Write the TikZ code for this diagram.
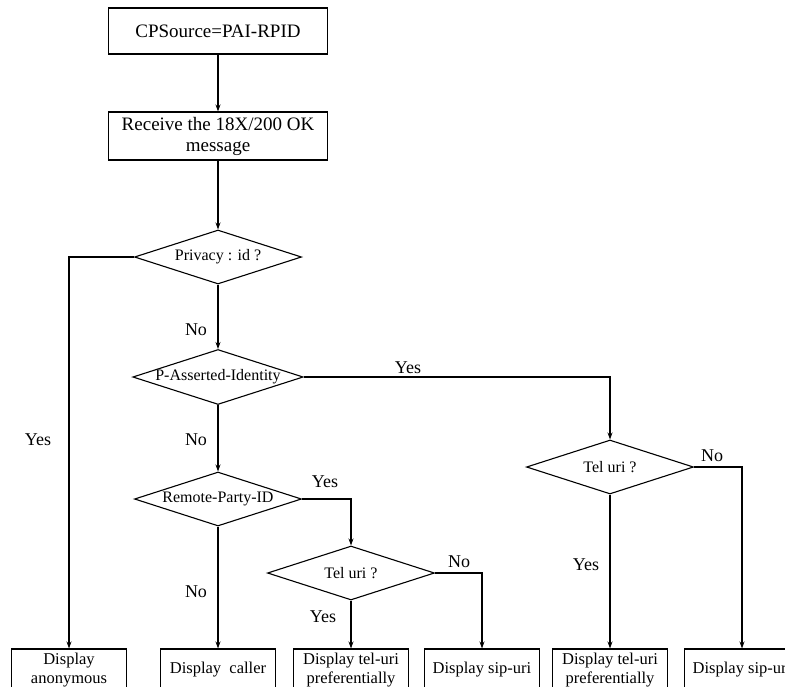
\documentclass[tikz,border=0pt]{standalone}
\usepackage{fontspec}
\setmainfont{Liberation Serif}
\usetikzlibrary{shapes.geometric,arrows.meta}

\begin{document}
\begin{tikzpicture}[x=1pt,y=-1pt,>={Stealth[length=7pt,width=5pt]},line width=1.1pt,
	box/.style={draw,rectangle,minimum width=219pt,inner sep=0pt,align=center,font=\fontsize{19}{21}\selectfont},
	dia/.style={draw,diamond,aspect=3.1,minimum width=167pt,minimum height=54pt,inner sep=0pt,font=\fontsize{16}{18}\selectfont},
	outbox/.style={draw,rectangle,minimum width=115pt,minimum height=42pt,inner sep=0pt,align=center,font=\fontsize{16.5}{19}\selectfont},
	lbl/.style={font=\fontsize{18}{20}\selectfont}]
		\useasboundingbox (0,0) rectangle (785,686);
		% start
		\node[box,minimum height=46pt] (src) at (218,31) {CPSource=PAI-RPID};
		\node[box,minimum height=48pt] (rcv) at (218,136) {Receive the 18X/200 OK\\message};
		% decisions
		\node[dia] (priv) at (218,257) {Privacy : id ?};
		\node[dia] (pai) at (218,377) {P-Asserted-Identity};
		\node[dia] (rpid) at (218,499) {Remote-Party-ID};
		\node[dia] (tel1) at (610,467) {Tel uri ?};
		\node[dia] (tel2) at (351,573) {Tel uri ?};
		% results
		\node[outbox] (anon) at (69,670) {Display\\anonymous};
		\node[outbox] (caller) at (218,670) {Display\ \ caller};
		\node[outbox] (telpref1) at (351,670) {Display tel-uri\\preferentially};
		\node[outbox] (sip1) at (482,670) {Display sip-uri};
		\node[outbox] (telpref2) at (610,670) {Display tel-uri\\preferentially};
		\node[outbox] (sip2) at (742,670) {Display sip-uri};
		% connectors
		\draw[->] (src) -- (rcv);
		\draw[->] (rcv) -- (priv);
		\draw[->] (priv.west) -| (anon.north);
		\draw[->] (priv) -- (pai);
		\draw[->] (pai.east) -| (tel1.north);
		\draw[->] (pai) -- (rpid);
		\draw[->] (rpid.east) -| (tel2.north);
		\draw[->] (rpid) -- (caller);
		\draw[->] (tel2.east) -| (sip1.north);
		\draw[->] (tel2) -- (telpref1);
		\draw[->] (tel1.east) -| (sip2.north);
		\draw[->] (tel1) -- (telpref2);
		% branch labels
		\node[lbl] (no1) at (196,330) {No};
		\node[lbl] (yes1) at (408,368) {Yes};
		\node[lbl] (no2) at (196,440) {No};
		\node[lbl] (yes2) at (38,440) {Yes};
		\node[lbl] (yes3) at (325,482) {Yes};
		\node[lbl] (no3) at (196,592) {No};
		\node[lbl] (no4) at (459,562) {No};
		\node[lbl] (yes4) at (323,617) {Yes};
		\node[lbl] (no5) at (712,456) {No};
		\node[lbl] (yes5) at (586,565) {Yes};
\end{tikzpicture}
\end{document}
